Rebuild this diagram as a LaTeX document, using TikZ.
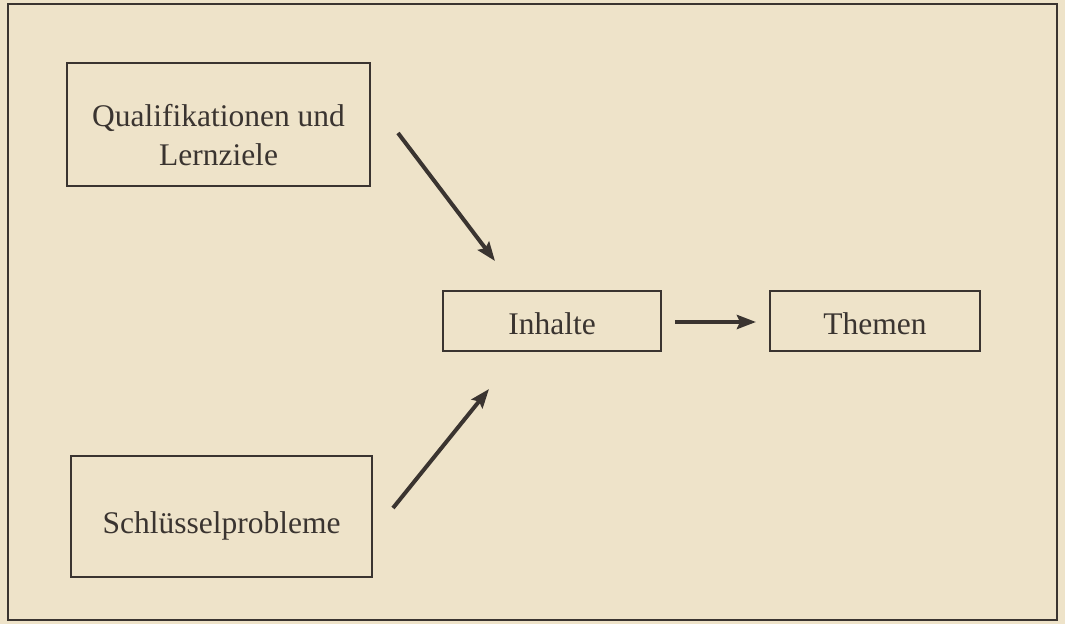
\documentclass[tikz,border=0pt]{standalone}
\usepackage{fontspec}
\setmainfont{Liberation Serif}
\usetikzlibrary{arrows.meta}
\definecolor{paper}{HTML}{EEE3C9}
\definecolor{ink}{HTML}{3A3430}
\tikzset{
  box/.style={draw=ink, line width=2pt, inner sep=0pt},
  lbl/.style={text=ink, font=\fontsize{31.5}{39}\selectfont, align=center, inner sep=0pt},
  arr/.style={draw=ink, line width=4pt, -{Stealth[length=19pt,width=14pt,inset=3pt]}},
}
\begin{document}
\begin{tikzpicture}[x=1pt,y=-1pt]
\fill[paper] (0,0) rectangle (1065,624);
\useasboundingbox (0,0) rectangle (1065,624);
\draw[ink, line width=2.4pt] (8,4) rectangle (1057,620);
\node[box, minimum width=303pt, minimum height=123pt] (qual) at (218.5,124.5) {};
\node[lbl] (qualt) at ([yshift=-11pt]qual.center) {Qualifikationen und\\Lernziele};
\node[box, minimum width=301pt, minimum height=121pt] (schl) at (221.5,516.5) {};
\node[lbl] (schlt) at ([yshift=-9pt]schl.center) {Schlüsselprobleme};
\node[box, minimum width=218pt, minimum height=60pt] (inh) at (552,321) {};
\node[lbl] (inht) at ([yshift=-3pt]inh.center) {Inhalte};
\node[box, minimum width=210pt, minimum height=60pt] (the) at (875,321) {};
\node[lbl] (thet) at ([yshift=-3pt]the.center) {Themen};
\coordinate (a1s) at (398,133);
\coordinate (a1e) at (495,261);
\coordinate (a2s) at (393,508);
\coordinate (a2e) at (489,389);
\coordinate (a3s) at (675,322);
\coordinate (a3e) at (756,322);
\draw[arr] (a1s) -- (a1e);
\draw[arr] (a2s) -- (a2e);
\draw[arr] (a3s) -- (a3e);
\end{tikzpicture}
\end{document}
